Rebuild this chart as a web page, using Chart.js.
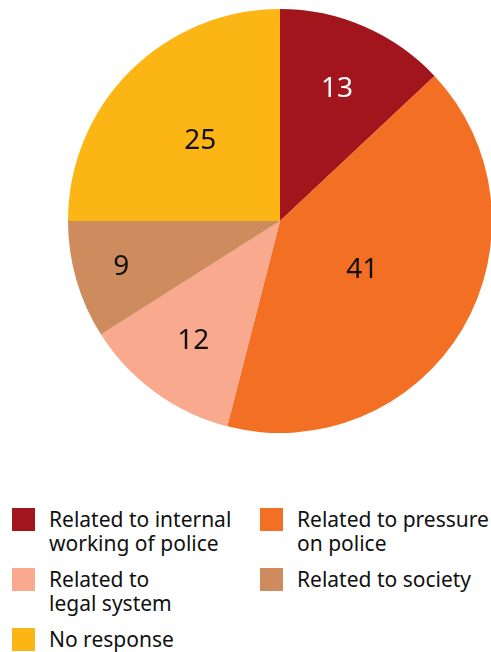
<!DOCTYPE html>
<html>
<head>
<meta charset="utf-8">
<script src="https://cdn.jsdelivr.net/npm/chart.js@4"></script>
<style>
  html, body { margin: 0; padding: 0; background: #fff; }
  body { width: 491px; height: 652px; position: relative; overflow: hidden; font-family: "Noto Sans", sans-serif; }
  #pieBox { position: absolute; left: 68px; top: 9px; width: 424px; height: 424px; }
  #legend { position: absolute; left: 12px; top: 508px; display: grid; grid-template-columns: 248px 240px; row-gap: 13px; }
  .item { display: flex; align-items: flex-start; }
  .swatch { width: 23px; height: 23px; flex: none; margin-right: 14px; }
  .text { font-size: 21px; line-height: 24px; color: #111; margin-top: -1px; white-space: nowrap; }
</style>
</head>
<body>
<div id="pieBox"><canvas id="pieChart"></canvas></div>
<div id="legend"></div>
<script>
const categories = ['Related to internal working of police', 'Related to pressure on police', 'Related to legal system', 'Related to society', 'No response'];
const legendLines = [['Related to internal', 'working of police'], ['Related to pressure', 'on police'], ['Related to', 'legal system'], ['Related to society'], ['No response']];
const values = [13, 41, 12, 9, 25];
const colors = ['#A3151C', '#F26F24', '#F8A98E', '#CD8B5E', '#FBB615'];
const labelColors = ['#ffffff', '#111111', '#111111', '#111111', '#111111'];

// draw the numbers inside the slices, bigger slices pulled towards the centre
const sliceLabels = {
    id: 'sliceLabels',
    afterDatasetsDraw(chart) {
        const ctx = chart.ctx;
        const meta = chart.getDatasetMeta(0);
        ctx.save();
        ctx.font = '28px "Noto Sans", sans-serif';
        ctx.textAlign = 'center';
        ctx.textBaseline = 'middle';
        meta.data.forEach((arc, i) => {
            const mid = (arc.startAngle + arc.endAngle) / 2;
            const r = arc.outerRadius * (0.16 + 1.86 / Math.sqrt(values[i]));
            ctx.fillStyle = labelColors[i];
            ctx.fillText(String(values[i]), arc.x + Math.cos(mid) * r, arc.y + Math.sin(mid) * r);
        });
        ctx.restore();
    }
};

new Chart(document.getElementById('pieChart').getContext('2d'), {
    type: 'pie',
    data: {
        labels: categories,
        datasets: [{
            data: values,
            backgroundColor: colors,
            borderWidth: 0,
        }],
    },
    options: {
        responsive: true,
        maintainAspectRatio: false,
        animation: false,
        layout: { padding: 0 },
        plugins: {
            legend: { display: false },
            tooltip: { enabled: false },
        },
    },
    plugins: [sliceLabels],
});

// html legend, two columns
const legend = document.getElementById('legend');
categories.forEach((c, i) => {
    const item = document.createElement('div');
    item.className = 'item';
    item.innerHTML = '<div class="swatch" style="background:' + colors[i] + '"></div><div class="text">' + legendLines[i].join('<br>') + '</div>';
    legend.appendChild(item);
});
</script>
</body>
</html>
